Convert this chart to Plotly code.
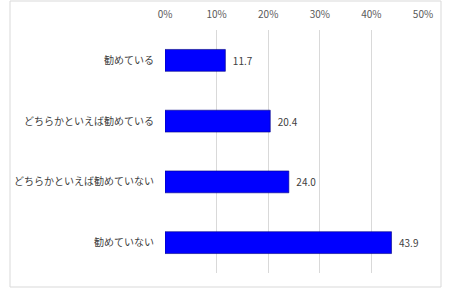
import plotly.graph_objects as go

categories = ["勧めている", "どちらかといえば勧めている", "どちらかといえば勧めていない", "勧めていない"]
values = [11.7, 20.4, 24.0, 43.9]
tick_vals = [0, 10, 20, 30, 40, 50]
tick_text = ["0%", "10%", "20%", "30%", "40%", "50%"]

W, H = 452, 288
ml, mr, mt, mb = 165, 29, 30, 15
pw = W - ml - mr
ph = H - mt - mb

fig = go.Figure(go.Bar(
    y=categories, x=values, orientation="h",
    marker=dict(color="#0000FF", line=dict(color="#000080", width=0.6)),
    width=0.36,
    text=["\u00a0\u00a0" + f"{v:.1f}" for v in values], textposition="outside",
    textfont=dict(size=10, color="#404040", family="Noto Sans CJK JP"),
    cliponaxis=False,
))

# outer border
x0 = (10 - ml) / pw
x1 = (441 - ml) / pw
y0 = (H - 287 - mb) / ph
y1 = (H - 1 - mb) / ph
fig.add_shape(type="rect", xref="paper", yref="paper", x0=x0, x1=x1, y0=y0, y1=y1,
              line=dict(color="#d9d9d9", width=1), layer="below")

fig.update_layout(
    width=W, height=H,
    margin=dict(l=ml, r=mr, t=mt, b=mb, autoexpand=False),
    paper_bgcolor="white", plot_bgcolor="white",
    showlegend=False,
    font=dict(family="Noto Sans CJK JP", size=10, color="#595959"),
    xaxis=dict(range=[0, 50], tickvals=tick_vals, ticktext=tick_text, side="top",
               showgrid=True, gridcolor="#d9d9d9", gridwidth=1, zeroline=False,
               showline=False, ticks="", ticklabelstandoff=9, automargin=False,
               tickfont=dict(size=10, color="#595959")),
    yaxis=dict(autorange="reversed", showgrid=False, zeroline=False, showline=False,
               ticks="", ticklabelstandoff=10, automargin=False,
               tickfont=dict(size=10, color="#404040")),
    bargap=0.64,
)

fig.write_html("out.html")
